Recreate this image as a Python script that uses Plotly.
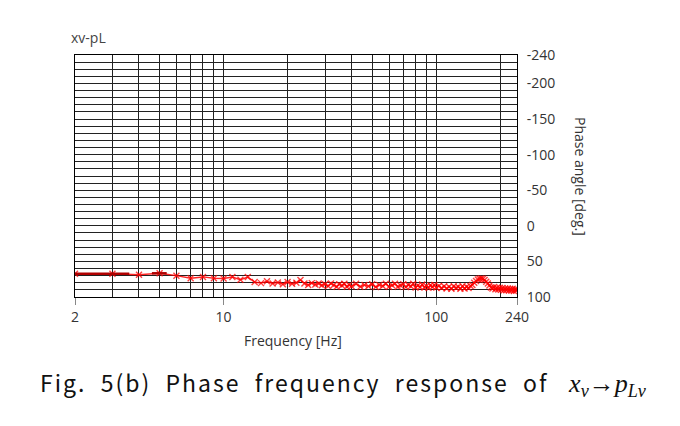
import plotly.graph_objects as go

# ---- data ----
freq_hz = [2, 3, 4, 5, 6, 7, 8, 9, 10, 11, 12, 13,
           14, 15, 16, 17, 18, 19, 20, 21, 22, 23, 24, 25, 26, 27, 28, 29, 30,
           31, 32, 33, 34, 35, 36, 37, 38, 39, 40,
           42, 44, 46, 48, 50, 52, 54, 56, 58, 60, 62, 64, 66, 68, 70, 72, 74, 76, 78, 80,
           82, 84, 86, 88, 90, 92, 94, 96, 98, 100,
           103, 106, 109, 112, 115, 118, 121, 124, 127, 130, 133, 136, 139, 142, 145,
           148, 151, 154, 157, 160, 163, 166, 169, 172, 175, 178, 181, 184, 187, 190,
           193, 196, 199, 202, 205, 208, 211, 214, 217, 220, 223, 226, 229, 232, 235, 238, 240]
phase_deg = [67.3, 67.3, 68.7, 66.7, 70.0, 73.7, 71.8, 73.7, 74.0, 72.0, 75.7, 72.0,
             79.0, 80.5, 78.0, 81.0, 79.5, 82.0, 79.0, 81.5, 80.0, 76.0, 81.0, 83.0, 80.5, 82.5, 81.0, 83.5, 82.0,
             84.5, 81.0, 83.0, 85.5, 82.0, 84.0, 81.5, 85.5, 83.0, 85.0,
             81.5, 85.5, 83.0, 85.0, 82.0, 86.0, 83.0, 84.5, 81.5, 85.5, 83.5, 81.5, 85.5, 84.0, 82.0, 86.0, 83.0, 85.0, 81.5, 86.5,
             84.0, 86.0, 82.5, 86.5, 84.5, 87.0, 83.5, 86.0, 83.0, 86.5,
             84.5, 87.5, 85.0, 88.0, 85.5, 88.5, 85.0, 87.5, 85.5, 88.5, 85.0, 88.0, 85.5, 87.5, 84.5,
             83.0, 80.0, 77.5, 75.5, 74.5, 74.0, 74.5, 76.0, 78.5, 81.0, 84.0, 86.5, 88.0, 86.0, 89.0,
             87.0, 89.5, 87.0, 90.0, 87.5, 90.5, 88.0, 90.5, 88.0, 91.0, 88.5, 91.0, 88.5, 91.5, 89.0, 91.0, 89.5]

# darker overlapping segments at the low-frequency end
seg_freq = [2, 3.6, None, 4.6, 5.4]
seg_phase = [67.3, 67.3, None, 66.7, 66.7]

x_tick_vals = [2, 10, 100, 240]
x_tick_text = ["2", "10", "100", "240"]
x_minor_vals = [3, 4, 5, 6, 7, 8, 9, 20, 30, 40, 50, 60, 70, 80, 90, 200]
y_tick_vals = [-240, -200, -150, -100, -50, 0, 50, 100]
y_tick_text = ["-240", "-200", "-150", "-100", "-50", "0", "50", "100"]

FONT = "Open Sans"
TXT = "#333333"

# page body has an 8px margin: plot area lands at screen x 75..517, y 55..297
PL, PT, PW, PH = 75, 55, 442, 242
OFF = 8

fig = go.Figure()
fig.add_trace(go.Scatter(
    x=freq_hz, y=phase_deg, mode="lines+markers",
    line=dict(color="rgba(255,0,0,0.85)", width=1.4),
    marker=dict(symbol="x-thin-open", size=6,
                line=dict(color="rgba(255,0,0,0.75)", width=1.4),
                color="rgba(255,0,0,0.75)"),
    showlegend=False, hoverinfo="skip"))
fig.add_trace(go.Scatter(
    x=seg_freq, y=seg_phase, mode="lines",
    line=dict(color="#b00000", width=2.5),
    showlegend=False, hoverinfo="skip"))

fig.update_layout(
    width=680, height=426,
    margin=dict(l=PL - OFF, r=680 - (PL - OFF) - PW, t=PT - OFF, b=426 - (PT - OFF) - PH),
    paper_bgcolor="white", plot_bgcolor="white",
    font=dict(family=FONT, size=14, color=TXT),
    xaxis=dict(
        type="log", range=[0.30103, 2.380211],
        tickmode="array", tickvals=x_tick_vals, ticktext=x_tick_text,
        ticks="outside", ticklen=7, tickcolor="#888888", tickwidth=1,
        showgrid=True, gridcolor="#222222", gridwidth=1,
        minor=dict(tickmode="array", tickvals=x_minor_vals, showgrid=True,
                   gridcolor="#222222", gridwidth=1, ticks=""),
        showline=True, linecolor="black", linewidth=1, mirror=True,
        zeroline=False, tickfont=dict(family=FONT, size=14, color=TXT),
    ),
    yaxis=dict(
        range=[100, -240], side="right",
        tickmode="array", tickvals=y_tick_vals, ticktext=y_tick_text,
        ticks="outside", ticklen=6, tickcolor="rgba(0,0,0,0)",
        showgrid=True, gridcolor="#222222", gridwidth=1,
        minor=dict(dtick=10, tick0=0, showgrid=True, gridcolor="#222222",
                   gridwidth=1, ticks=""),
        showline=True, linecolor="black", linewidth=1, mirror=True,
        zeroline=False, tickfont=dict(family=FONT, size=14, color=TXT),
    ),
)

def px_x(px):
    return (px - PL) / float(PW)

def px_y(py):
    return (PT + PH - py) / float(PH)

fig.add_annotation(text="xv-pL", xref="paper", yref="paper",
                   x=px_x(69), y=px_y(38), xanchor="left", yanchor="middle",
                   showarrow=False, font=dict(family=FONT, size=14, color="#444444"))
fig.add_annotation(text="Phase angle [deg.]", xref="paper", yref="paper",
                   x=px_x(581), y=px_y(176), xanchor="center", yanchor="middle",
                   textangle=90, showarrow=False,
                   font=dict(family=FONT, size=14, color=TXT))
fig.add_annotation(text="Frequency [Hz]", xref="paper", yref="paper",
                   x=px_x(293), y=px_y(340), xanchor="center", yanchor="middle",
                   showarrow=False, font=dict(family=FONT, size=14, color=TXT))

sp = "\u00a0\u00a0"
caption = ("<span style=\"letter-spacing:2px\">Fig." + sp + "5(b)" + sp + "Phase" + sp
           + "frequency" + sp + "response" + sp + "of</span>" + sp + sp
           + "<span style=\"font-family:Liberation Serif;font-size:26px\"><i>x</i><sub><i>v</i></sub>"
           + "\u2192<i>p</i><sub><i>Lv</i></sub></span>")
fig.add_annotation(text=caption, xref="paper", yref="paper",
                   x=px_x(38), y=px_y(383), xanchor="left", yanchor="middle",
                   showarrow=False,
                   font=dict(family="Noto Sans CJK KR", size=23, color="#111111"))

fig.write_html("out.html")
